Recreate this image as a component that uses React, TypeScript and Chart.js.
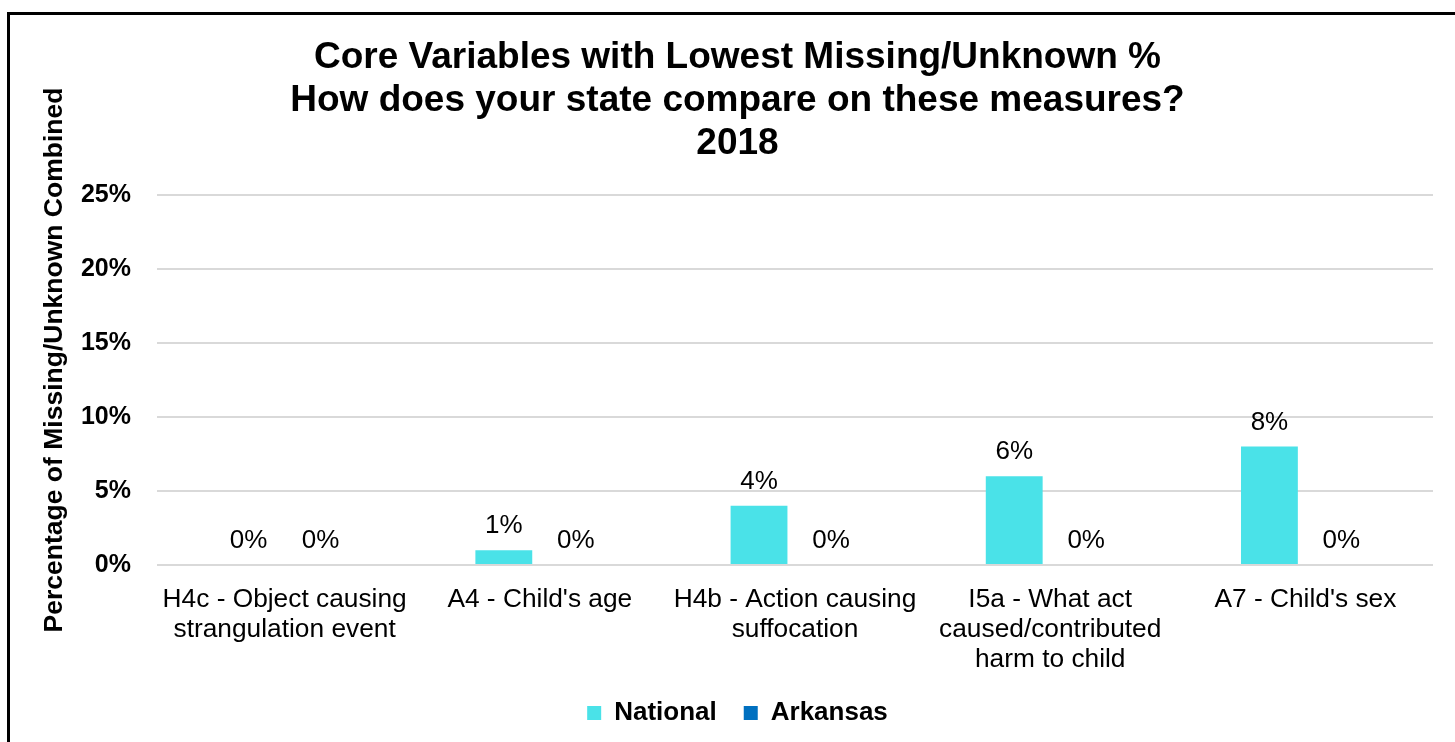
import React, { useEffect, useRef } from "react";
import { Chart, registerables } from "chart.js";

Chart.register(...registerables);

const titleLines = [
  "Core Variables with Lowest Missing/Unknown %",
  "How does your state compare on these measures?",
  "2018",
];
const categories = [
  ["H4c - Object causing", "strangulation event"],
  ["A4 - Child's age"],
  ["H4b - Action causing", "suffocation"],
  ["I5a - What act", "caused/contributed", "harm to child"],
  ["A7 - Child's sex"],
];
const nationalValues = [0, 1, 4, 6, 8];
const arkansasValues = [0, 0, 0, 0, 0];
const seriesNames = ["National", "Arkansas"];
const yAxisTitle = "Percentage of Missing/Unknown Combined";
const yMin = 0;
const yMax = 25;
const yStep = 5;

const FONT = "'Liberation Sans', Arial, sans-serif";

const dataLabelPlugin = {
  id: "dataLabels",
  afterDatasetsDraw(chart: any) {
    const ctx = chart.ctx;
    ctx.save();
    ctx.font = `26px ${FONT}`;
    ctx.fillStyle = "#000";
    ctx.textAlign = "center";
    ctx.textBaseline = "middle";
    chart.data.datasets.forEach((ds: any, i: number) => {
      const meta = chart.getDatasetMeta(i);
      meta.data.forEach((el: any, j: number) => {
        ctx.fillText(`${ds.data[j]}%`, el.x, el.y - 24);
      });
    });
    ctx.restore();
  },
};

const yTitlePlugin = {
  id: "yTitle",
  afterDraw(chart: any) {
    const ctx = chart.ctx;
    const area = chart.chartArea;
    ctx.save();
    ctx.font = `bold 26.5px ${FONT}`;
    ctx.fillStyle = "#000";
    ctx.textAlign = "center";
    ctx.textBaseline = "middle";
    ctx.translate(55, (area.top + area.bottom) / 2 - 20);
    ctx.rotate(-Math.PI / 2);
    ctx.fillText(yAxisTitle, 0, 0);
    ctx.restore();
  },
};

export default function App() {
  const canvasRef = useRef<HTMLCanvasElement>(null);

  useEffect(() => {
    if (!canvasRef.current) return;
    const chart = new Chart(canvasRef.current, {
      type: "bar",
      data: {
        labels: categories,
        datasets: [
          {
            label: seriesNames[0],
            data: nationalValues,
            backgroundColor: "#4AE2E8",
            categoryPercentage: 0.564,
            barPercentage: 0.79,
          },
          {
            label: seriesNames[1],
            data: arkansasValues,
            backgroundColor: "#0070C0",
            categoryPercentage: 0.564,
            barPercentage: 0.79,
          },
        ],
      },
      options: {
        responsive: false,
        animation: false,
        layout: { padding: { left: 42, right: 22, top: 0, bottom: 6 } },
        plugins: {
          title: {
            display: true,
            text: titleLines,
            color: "#000",
            font: { family: FONT, size: 37, weight: "bold", lineHeight: 43 / 37 },
            padding: { top: 36, bottom: 30 },
          },
          legend: {
            position: "bottom",
            labels: {
              color: "#000",
              font: { family: FONT, size: 26, weight: "bold" },
              boxWidth: 14,
              boxHeight: 14,
              padding: 27,
            },
          },
          tooltip: { enabled: false },
        },
        scales: {
          x: {
            grid: { display: false, drawTicks: false },
            border: { display: false },
            ticks: {
              color: "#000",
              font: { family: FONT, size: 26.3, lineHeight: 30 / 26.3 },
              padding: 20,
              maxRotation: 0,
              minRotation: 0,
              autoSkip: false,
            },
            afterFit(scale: any) {
              scale.height = 108;
            },
          },
          y: {
            min: yMin,
            max: yMax,
            grid: { color: "#D9D9D9", lineWidth: 2, drawTicks: false },
            border: { display: false },
            ticks: {
              stepSize: yStep,
              color: "#000",
              font: { family: FONT, size: 25, weight: "bold" },
              padding: 26,
              callback: (v: any) => `${v}%`,
            },
            afterFit(scale: any) {
              scale.width = 115;
            },
          },
        },
      },
      plugins: [dataLabelPlugin, yTitlePlugin],
    });
    return () => chart.destroy();
  }, []);

  return (
    <div
      style={{
        position: "fixed",
        left: 0,
        top: 0,
        width: 1455,
        height: 742,
        overflow: "hidden",
        background: "#fff",
      }}
    >
      <canvas
        ref={canvasRef}
        width={1455}
        height={742}
        style={{ position: "absolute", left: 0, top: 0, width: 1455, height: 742 }}
      />
      <div
        style={{
          position: "absolute",
          left: 7,
          top: 12,
          width: 2000,
          height: 2000,
          border: "3px solid #000",
          pointerEvents: "none",
        }}
      />
    </div>
  );
}
